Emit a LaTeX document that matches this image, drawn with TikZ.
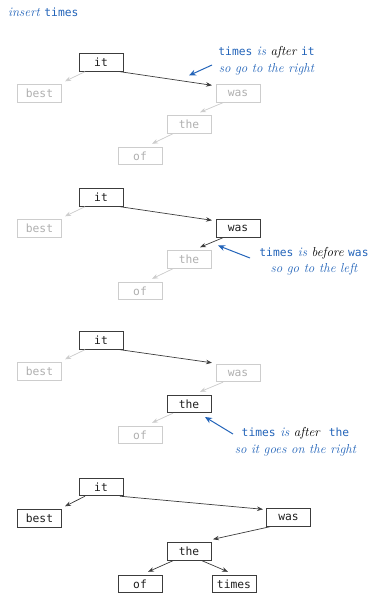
\documentclass[tikz,border=0pt]{standalone}
\usepackage{fontspec}
\newfontfamily\monofont{DejaVu Sans Mono}
\usetikzlibrary{calc,arrows.meta}
\definecolor{bblue}{RGB}{35,100,185}
\definecolor{actline}{RGB}{60,60,60}
\definecolor{actext}{RGB}{30,30,30}
\definecolor{offline}{RGB}{205,205,205}
\definecolor{offtext}{RGB}{175,175,175}
\tikzset{
  keybox/.style={draw=actline, line width=0.9pt, minimum width=44pt, minimum height=17.5pt, inner sep=0pt, text=actext, font=\monofont\fontsize{11.3}{12}\selectfont},
  offbox/.style={keybox, draw=offline, text=offtext},
  edge/.style={draw=actline, line width=0.7pt, -{Stealth[length=6pt,width=4.5pt]}},
  offedge/.style={edge, draw=offline, fill=offline},
  note/.style={text=bblue, align=center, font=\itshape\fontsize{13}{16.5}\selectfont},
  pointer/.style={draw=bblue, line width=1pt, -{Stealth[length=7pt,width=6pt]}},
}
\newcommand{\kw}[1]{{\monofont\upshape\fontsize{11.3}{12}\selectfont #1}}
\newcommand{\emw}[1]{{\color{black}#1}}
\begin{document}
\begin{tikzpicture}[x=1pt,y=-1pt]
\useasboundingbox (0,0) rectangle (373,596);
\node[anchor=west, text=bblue, font=\itshape\fontsize{13}{14}\selectfont, inner sep=0pt] (title) at (8,12) {insert \kw{times}};

% ---------- panel 1
\node[keybox] (it1) at (101,62.5) {it};
\node[offbox] (best1) at (39.5,93.5) {best};
\node[offbox] (was1) at (238,93.5) {was};
\node[offbox] (the1) at (189,124.5) {the};
\node[offbox] (of1) at (140,156) {of};
\draw[offedge] ($(it1.south)+(-16,0)$) -- ($(best1.north)+(25.5,-3)$);
\draw[edge] ($(it1.south)+(19,0)$) -- ($(was1.north)+(-26,1)$);
\draw[offedge] ($(was1.south)+(-15,0)$) -- ($(the1.north)+(11,-3)$);
\draw[offedge] ($(the1.south)+(-16,0)$) -- ($(of1.north)+(12,-3)$);
\node[note] (n1) at (266.5,61) {\kw{times} is \emw{after} \kw{it}\\so go to the right};
\coordinate (p1s) at (212,65);
\coordinate (p1e) at (189,75.5);
\draw[pointer] (p1s) -- (p1e);

% ---------- panel 2
\node[keybox] (it2) at (101,197.5) {it};
\node[offbox] (best2) at (39.5,228.5) {best};
\node[keybox] (was2) at (238,228.5) {was};
\node[offbox] (the2) at (189,259.5) {the};
\node[offbox] (of2) at (140,291) {of};
\draw[offedge] ($(it2.south)+(-16,0)$) -- ($(best2.north)+(25.5,-3)$);
\draw[edge] ($(it2.south)+(19,0)$) -- ($(was2.north)+(-26,1)$);
\draw[edge] ($(was2.south)+(-15,0)$) -- ($(the2.north)+(11,-3)$);
\draw[offedge] ($(the2.south)+(-16,0)$) -- ($(of2.north)+(12,-3)$);
\node[note] (n2) at (314,261) {\kw{times} is \emw{before} \kw{was}\\so go to the left};
\coordinate (p2s) at (250,258);
\coordinate (p2e) at (218,245.5);
\draw[pointer] (p2s) -- (p2e);

% ---------- panel 3
\node[keybox] (it3) at (101,340.5) {it};
\node[offbox] (best3) at (39.5,371.5) {best};
\node[offbox] (was3) at (238,373) {was};
\node[keybox] (the3) at (189,404) {the};
\node[offbox] (of3) at (140,435) {of};
\draw[offedge] ($(it3.south)+(-16,0)$) -- ($(best3.north)+(25.5,-3)$);
\draw[edge] ($(it3.south)+(19,0)$) -- ($(was3.north)+(-26,-1)$);
\draw[offedge] ($(was3.south)+(-15,0)$) -- ($(the3.north)+(11,-3)$);
\draw[offedge] ($(the3.south)+(-16,0)$) -- ($(of3.north)+(12,-3)$);
\node[note] (n3) at (295.5,441.5) {\kw{times} is \emw{after}\ \ \kw{the}\\so it goes on the right};
\coordinate (p3s) at (233,434);
\coordinate (p3e) at (205,417);
\draw[pointer] (p3s) -- (p3e);

% ---------- panel 4
\node[keybox] (it4) at (101,487) {it};
\node[keybox] (best4) at (39.5,518.5) {best};
\node[keybox] (was4) at (288.5,517.5) {was};
\node[keybox] (the4) at (189,551.5) {the};
\node[keybox] (of4) at (140,584) {of};
\node[keybox] (times4) at (234,584) {times};
\draw[edge] ($(it4.south)+(-16,0)$) -- ($(best4.north)+(25.5,-3)$);
\draw[edge] ($(it4.south)+(19,0)$) -- ($(was4.north)+(-25.5,1)$);
\draw[edge] ($(was4.south)+(-18.5,0)$) -- ($(the4.north)+(24,-3)$);
\draw[edge] ($(the4.south)+(-16,0)$) -- ($(of4.north)+(8,-3)$);
\draw[edge] ($(the4.south)+(13,0)$) -- ($(times4.north)+(-6,-3)$);
\end{tikzpicture}
\end{document}
